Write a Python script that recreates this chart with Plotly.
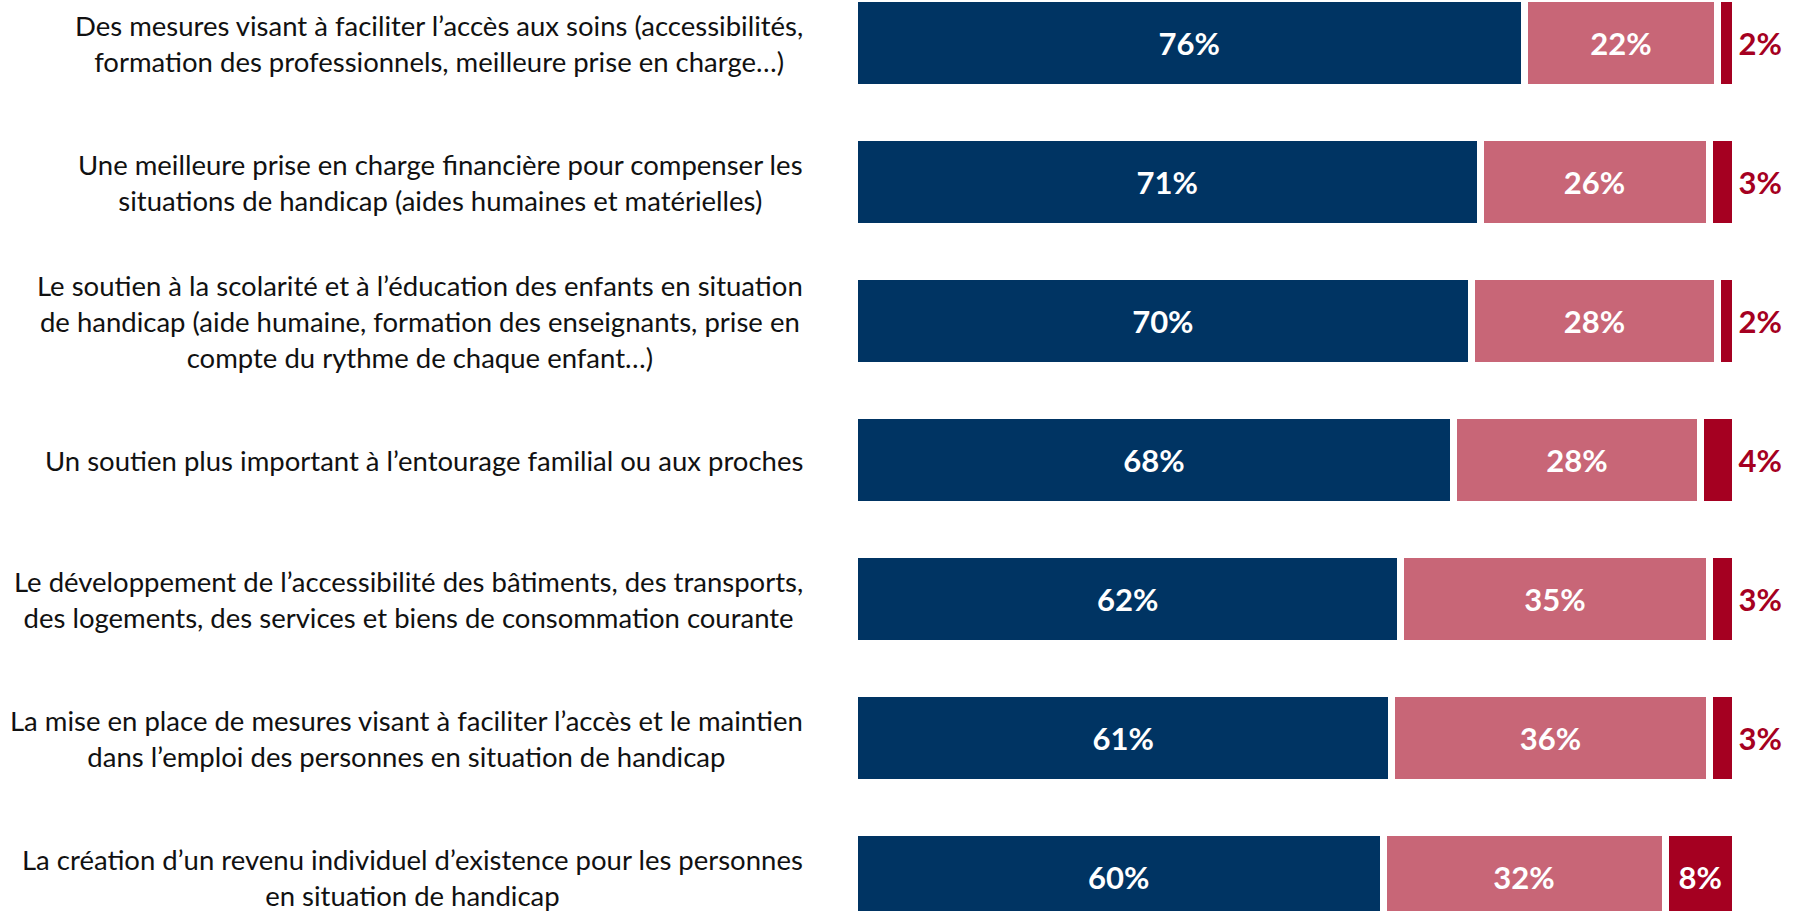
import plotly.graph_objects as go

categories = [
    "Des mesures visant à faciliter l’accès aux soins (accessibilités,<br>formation des professionnels, meilleure prise en charge…)",
    "Une meilleure prise en charge financière pour compenser les<br>situations de handicap (aides humaines et matérielles)",
    "Le soutien à la scolarité et à l’éducation des enfants en situation<br>de handicap (aide humaine, formation des enseignants, prise en<br>compte du rythme de chaque enfant…)",
    "Un soutien plus important à l’entourage familial ou aux proches",
    "Le développement de l’accessibilité des bâtiments, des transports,<br>des logements, des services et biens de consommation courante",
    "La mise en place de mesures visant à faciliter l’accès et le maintien<br>dans l’emploi des personnes en situation de handicap",
    "La création d’un revenu individuel d’existence pour les personnes<br>en situation de handicap",
]
s1 = [76, 71, 70, 68, 62, 61, 60]
s2 = [22, 26, 28, 28, 35, 36, 32]
s3 = [2, 3, 2, 4, 3, 3, 8]

BLUE = "#003463"
PINK = "#C86677"
RED = "#A50021"
FONT = "Lato, sans-serif"

ypos = list(range(len(categories)))
fig = go.Figure()
for vals, color in [(s1, BLUE), (s2, PINK)]:
    fig.add_trace(go.Bar(
        x=vals, y=ypos, orientation="h", width=0.64,
        marker=dict(color=color, line=dict(color="white", width=7)),
        text=[f"<b>{v}%</b>" for v in vals], textposition="inside",
        insidetextanchor="middle", textangle=0, constraintext="none",
        insidetextfont=dict(color="white", size=31, family=FONT),
        hoverinfo="skip",
    ))
fig.add_trace(go.Bar(
    x=s3, y=ypos, orientation="h", width=0.64,
    marker=dict(color=RED, line=dict(color="white", width=7)),
    text=[f"<b>{v}%</b>" for v in s3],
    textposition=["inside" if v >= 6 else "outside" for v in s3],
    insidetextanchor="middle", textangle=0, constraintext="none",
    insidetextfont=dict(color="white", size=31, family=FONT),
    outsidetextfont=dict(color=RED, size=31, family=FONT),
    cliponaxis=False, hoverinfo="skip",
))

for i, lab in enumerate(categories):
    fig.add_annotation(
        x=805 / 1794, xref="paper", y=i, yref="y", text=lab,
        xanchor="right", align="center", showarrow=False,
        font=dict(family=FONT, size=27.5, color="#111111"),
    )

fig.update_layout(
    barmode="stack", showlegend=False,
    width=1794, height=911,
    margin=dict(l=0, r=0, t=0, b=0),
    paper_bgcolor="white", plot_bgcolor="white",
    xaxis=dict(domain=[854.5 / 1794, 1], range=[0, (1794 - 854.5) / 8.81],
               visible=False, fixedrange=True),
    yaxis=dict(range=[(911 - 43) / 139, -43 / 139], visible=False, fixedrange=True),
)
fig.write_html(
    "out.html",
    config={"displayModeBar": False},
    post_script="document.body.style.margin='0';document.body.style.overflow='hidden';",
)
